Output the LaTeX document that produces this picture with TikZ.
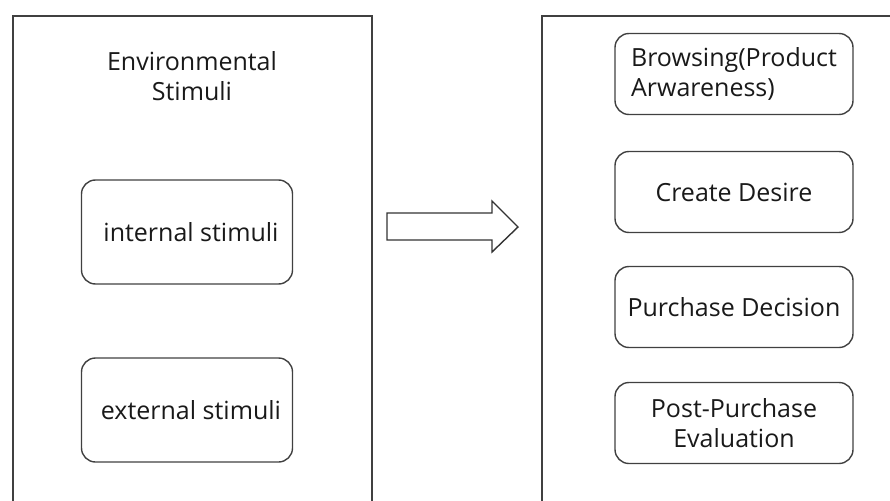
\documentclass[tikz,border=0pt]{standalone}
\usepackage{fontspec}
\setmainfont{Open Sans}
\tikzset{
  frame/.style={draw=black!75, line width=1.6pt, anchor=north west, inner sep=0pt},
  stage/.style={draw=black!75, line width=1.4pt, rounded corners=14pt,
    minimum width=238pt, minimum height=81pt, inner sep=1pt, text=black!90,
    font=\fontsize{25}{30}\selectfont},
  stimbox/.style={stage, minimum width=211pt, minimum height=104pt},
  label/.style={text=black!90, font=\fontsize{25}{30}\selectfont},
  blockarrow/.style={draw=black!80, line width=1.4pt, fill=white, line join=miter},
}
\begin{document}
\begin{tikzpicture}[x=1pt,y=-1pt]
\useasboundingbox (0,0) rectangle (890,500);
\clip (0,0) rectangle (890,500);
% two outer frames, cut by the page edge
\node[frame, minimum width=359pt, minimum height=520pt] (envbox) at (12,15) {};
\node[frame, minimum width=400pt, minimum height=520pt] (procbox) at (541,15) {};
% stimuli side
\node[label, align=center] (envtitle) at (192,76) {Environmental\\Stimuli};
\node[stimbox] (internal) at (187,232) {\hspace*{8pt}internal stimuli};
\node[stimbox] (external) at (187,410) {\hspace*{8pt}external stimuli};
% decision side
\node[stage, align=left] (browse) at (734,74) {Browsing(Product\\Arwareness)};
\node[stage] (desire) at (734,192) {Create Desire};
\node[stage] (decide) at (734,307) {Purchase Decision};
\node[stage, align=center] (evaluate) at (734,423) {Post-Purchase\\Evaluation};
% block arrow between the frames
\draw[blockarrow] (387,213) -- (492,213) -- (492,201) -- (518,227)
  -- (492,252) -- (492,240) -- (387,240) -- cycle;
\end{tikzpicture}
\end{document}
